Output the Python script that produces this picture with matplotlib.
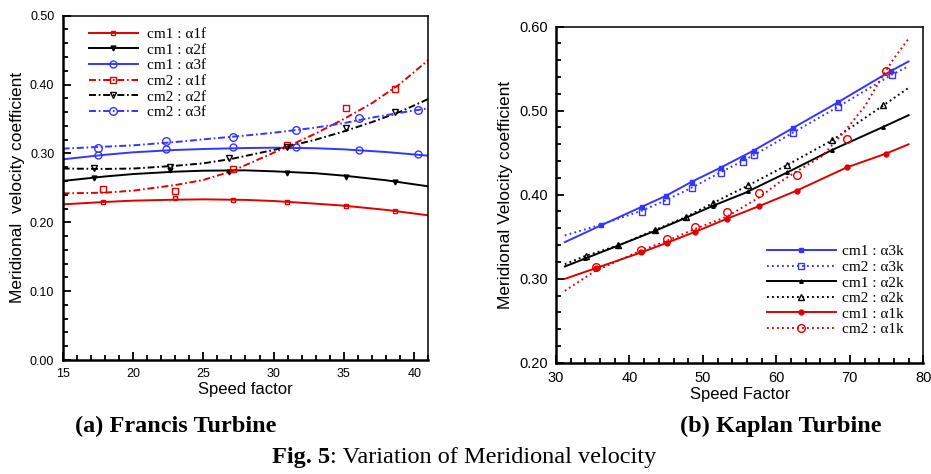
import matplotlib
matplotlib.use("Agg")
import matplotlib.pyplot as plt
from matplotlib.ticker import MultipleLocator, FormatStrFormatter

plt.rcParams['lines.scale_dashes'] = False

RED = '#e00000'
BLUE = '#3535ff'
BLACK = '#000000'

# ---------------- Francis turbine (a) ----------------
fr_labels = ["cm1 : \u03b11f", "cm1 : \u03b12f", "cm1 : \u03b13f",
             "cm2 : \u03b11f", "cm2 : \u03b12f", "cm2 : \u03b13f"]

# fitted curves
fr_cm1_a1_lx = [15, 18, 20, 23, 25, 28, 30, 33, 35, 38, 41]
fr_cm1_a1_ly = [0.226, 0.2295, 0.2314, 0.2328, 0.2333, 0.2325, 0.2309, 0.227, 0.2241, 0.218, 0.2101]
fr_cm1_a2_lx = [15, 18, 20, 23, 25, 28, 30, 33, 35, 38, 41]
fr_cm1_a2_ly = [0.260, 0.2665, 0.270, 0.2735, 0.2749, 0.2754, 0.274, 0.2712, 0.2677, 0.261, 0.2522]
fr_cm1_a3_lx = [15, 18, 20, 23, 25, 28, 30, 33, 35, 38, 41]
fr_cm1_a3_ly = [0.2914, 0.298, 0.3016, 0.305, 0.3064, 0.3078, 0.3083, 0.3075, 0.3059, 0.302, 0.2967]
fr_cm2_a1_lx = [15, 18, 20, 23, 25, 27, 29, 31, 33, 35, 37, 39, 41]
fr_cm2_a1_ly = [0.242, 0.243, 0.2459, 0.254, 0.2614, 0.274, 0.292, 0.310, 0.329, 0.350, 0.373, 0.401, 0.4356]
fr_cm2_a2_lx = [15, 18, 20, 23, 25, 27, 30, 33, 35, 37, 39, 41]
fr_cm2_a2_ly = [0.278, 0.2775, 0.278, 0.282, 0.2856, 0.292, 0.305, 0.320, 0.332, 0.3455, 0.3605, 0.379]
fr_cm2_a3_lx = [15, 20, 23, 25, 28, 30, 33, 35, 37, 39, 41]
fr_cm2_a3_ly = [0.3069, 0.3117, 0.3165, 0.3204, 0.326, 0.330, 0.3375, 0.344, 0.352, 0.359, 0.3655]

# data points
fr_cm1_a1_px = [17.84, 22.99, 27.14, 30.98, 35.12, 38.65]
fr_cm1_a1_py = [0.229, 0.235, 0.233, 0.229, 0.223, 0.217]
fr_cm1_a2_px = [17.23, 22.66, 26.8, 30.98, 35.12, 38.65]
fr_cm1_a2_py = [0.2638, 0.2764, 0.2730, 0.2715, 0.2662, 0.2590]
fr_cm1_a3_px = [17.54, 22.32, 27.14, 31.62, 36.09, 40.24]
fr_cm1_a3_py = [0.2972, 0.3059, 0.3088, 0.3098, 0.3045, 0.2991]
fr_cm2_a1_px = [17.84, 22.99, 27.14, 30.98, 35.12, 38.65]
fr_cm2_a1_py = [0.2478, 0.2449, 0.2774, 0.3122, 0.3659, 0.3935]
fr_cm2_a2_px = [17.23, 22.66, 26.8, 30.98, 35.12, 38.65]
fr_cm2_a2_py = [0.2783, 0.2807, 0.2938, 0.3098, 0.3364, 0.3601]
fr_cm2_a3_px = [17.54, 22.32, 27.14, 31.62, 36.09, 40.24]
fr_cm2_a3_py = [0.3083, 0.3180, 0.3243, 0.3340, 0.3509, 0.3630]

# ---------------- Kaplan turbine (b) ----------------
kp_labels = ["cm1 : \u03b13k", "cm2 : \u03b13k", "cm1 : \u03b12k",
             "cm2 : \u03b12k", "cm1 : \u03b11k", "cm2 : \u03b11k"]

kp_cm1_a3_lx = [31.2, 36.1, 41.7, 45.0, 48.5, 52.4, 56.9, 62.2, 68.4, 75.55, 78]
kp_cm1_a3_ly = [0.3435, 0.3634, 0.3857, 0.3988, 0.4155, 0.4322, 0.4525, 0.4791, 0.5101, 0.5471, 0.5586]
kp_cm1_a3_px = [36.1, 41.7, 45.0, 48.5, 52.4, 55.5, 56.9, 62.2, 68.4, 75.55]
kp_cm1_a3_py = [0.3634, 0.3857, 0.3988, 0.4155, 0.4322, 0.4441, 0.4525, 0.4791, 0.5101, 0.5471]

kp_cm2_a3_lx = [31.2, 36, 41.7, 45, 48.5, 52.4, 56.9, 62.2, 68.4, 75.7, 78]
kp_cm2_a3_ly = [0.3515, 0.364, 0.381, 0.3935, 0.4085, 0.4265, 0.447, 0.4736, 0.5046, 0.5427, 0.553]
kp_cm2_a3_px = [41.7, 45.0, 48.5, 52.4, 55.5, 56.9, 62.2, 68.4, 75.7]
kp_cm2_a3_py = [0.3797, 0.3924, 0.4076, 0.4258, 0.4386, 0.4473, 0.4736, 0.5046, 0.5427]

kp_cm1_a2_lx = [31.2, 38.5, 43.5, 47.6, 51.4, 55.7, 61.6, 67.5, 74.55, 78]
kp_cm1_a2_ly = [0.3145, 0.3396, 0.357, 0.3722, 0.3869, 0.402, 0.427, 0.4529, 0.4807, 0.4946]
kp_cm1_a2_px = [34.0, 38.5, 43.5, 47.6, 51.4, 56.2, 61.5, 67.6, 74.55]
kp_cm1_a2_py = [0.325, 0.3396, 0.357, 0.3722, 0.3869, 0.404, 0.4265, 0.4533, 0.4807]

kp_cm2_a2_lx = [31.2, 34.04, 38.48, 43.48, 47.65, 51.37, 56.18, 61.49, 67.6, 74.55, 78]
kp_cm2_a2_ly = [0.3173, 0.3272, 0.3396, 0.358, 0.3734, 0.390, 0.4111, 0.4354, 0.4648, 0.5062, 0.5272]
kp_cm2_a2_px = [34.04, 38.48, 43.48, 47.65, 51.37, 56.18, 61.49, 67.6, 74.55]
kp_cm2_a2_py = [0.3272, 0.3396, 0.3579, 0.3734, 0.390, 0.4111, 0.4354, 0.4648, 0.5062]

kp_cm1_a1_lx = [31.2, 35.4, 41.57, 45.1, 48.97, 53.28, 57.68, 62.76, 69.61, 74.92, 78]
kp_cm1_a1_ly = [0.2998, 0.3125, 0.3312, 0.3427, 0.3559, 0.3714, 0.3865, 0.4048, 0.4326, 0.4489, 0.46]
kp_cm1_a1_px = [35.4, 41.57, 45.1, 48.97, 53.28, 57.68, 62.76, 69.61, 74.92]
kp_cm1_a1_py = [0.3125, 0.3312, 0.3427, 0.3559, 0.3714, 0.3865, 0.4048, 0.4326, 0.4489]

kp_cm2_a1_lx = [31.2, 35.3, 41.4, 45.06, 49, 53.3, 57.7, 60.3, 62.8, 66.2, 69.3, 72.06, 73.9, 75.9, 78]
kp_cm2_a1_ly = [0.2855, 0.309, 0.333, 0.345, 0.3595, 0.374, 0.397, 0.414, 0.428, 0.4457, 0.4755, 0.5054, 0.5332, 0.561, 0.5857]
kp_cm2_a1_px = [35.4, 41.57, 45.1, 48.97, 53.28, 57.68, 62.76, 69.61, 74.92]
kp_cm2_a1_py = [0.3145, 0.3344, 0.3467, 0.3614, 0.3797, 0.4024, 0.4235, 0.466, 0.5467]

# ---------------- figure ----------------
fig = plt.figure(figsize=(9.31, 4.74), dpi=100)
ax1 = fig.add_axes([0.0673, 0.2405, 0.3927, 0.7264])
ax2 = fig.add_axes([0.5972, 0.2348, 0.3945, 0.7089])

SANS = 'Liberation Sans'
SERIF = 'Liberation Serif'
DASHDOT = (0, (5.0, 2.0, 1.2, 2.0))
DOTTED = (0, (1.3, 2.3))
LW = 1.4


def draw(ax, lx, ly, px, py, color, ls, marker, ms, mfc, label):
    ax.plot(lx, ly, color=color, lw=LW, linestyle=ls, zorder=2)
    ax.plot(px, py, linestyle='none', marker=marker, ms=ms, mfc=mfc,
            mec=color, mew=1.0, zorder=3)
    # legend proxy
    return ax.plot([], [], color=color, lw=LW, linestyle=ls, marker=marker,
                   ms=ms, mfc=mfc, mec=color, mew=1.0, label=label)[0]


h1 = []
h1.append(draw(ax1, fr_cm1_a1_lx, fr_cm1_a1_ly, fr_cm1_a1_px, fr_cm1_a1_py, RED, '-', 's', 3.5, 'none', fr_labels[0]))
h1.append(draw(ax1, fr_cm1_a2_lx, fr_cm1_a2_ly, fr_cm1_a2_px, fr_cm1_a2_py, BLACK, '-', 'v', 3.5, BLACK, fr_labels[1]))
h1.append(draw(ax1, fr_cm1_a3_lx, fr_cm1_a3_ly, fr_cm1_a3_px, fr_cm1_a3_py, BLUE, '-', 'o', 5, 'none', fr_labels[2]))
h1.append(draw(ax1, fr_cm2_a1_lx, fr_cm2_a1_ly, fr_cm2_a1_px, fr_cm2_a1_py, RED, DASHDOT, 's', 4, 'none', fr_labels[3]))
h1.append(draw(ax1, fr_cm2_a2_lx, fr_cm2_a2_ly, fr_cm2_a2_px, fr_cm2_a2_py, BLACK, DASHDOT, 'v', 4.5, 'none', fr_labels[4]))
h1.append(draw(ax1, fr_cm2_a3_lx, fr_cm2_a3_ly, fr_cm2_a3_px, fr_cm2_a3_py, BLUE, DASHDOT, 'o', 5.5, 'none', fr_labels[5]))

h2 = []
h2.append(draw(ax2, kp_cm1_a3_lx, kp_cm1_a3_ly, kp_cm1_a3_px, kp_cm1_a3_py, BLUE, '-', 's', 3.5, BLUE, kp_labels[0]))
h2.append(draw(ax2, kp_cm2_a3_lx, kp_cm2_a3_ly, kp_cm2_a3_px, kp_cm2_a3_py, BLUE, DOTTED, 's', 4, 'none', kp_labels[1]))
h2.append(draw(ax2, kp_cm1_a2_lx, kp_cm1_a2_ly, kp_cm1_a2_px, kp_cm1_a2_py, BLACK, '-', '^', 2.5, BLACK, kp_labels[2]))
h2.append(draw(ax2, kp_cm2_a2_lx, kp_cm2_a2_ly, kp_cm2_a2_px, kp_cm2_a2_py, BLACK, DOTTED, '^', 4.5, 'none', kp_labels[3]))
h2.append(draw(ax2, kp_cm1_a1_lx, kp_cm1_a1_ly, kp_cm1_a1_px, kp_cm1_a1_py, RED, '-', 'o', 3.5, RED, kp_labels[4]))
h2.append(draw(ax2, kp_cm2_a1_lx, kp_cm2_a1_ly, kp_cm2_a1_px, kp_cm2_a1_py, RED, DOTTED, 'o', 5.5, 'none', kp_labels[5]))


def style(ax, xlim, ylim, xmaj, xmin, ymaj, ymin, fs):
    ax.set_xlim(*xlim)
    ax.set_ylim(*ylim)
    ax.xaxis.set_major_locator(MultipleLocator(xmaj))
    ax.xaxis.set_minor_locator(MultipleLocator(xmin))
    ax.yaxis.set_major_locator(MultipleLocator(ymaj))
    ax.yaxis.set_minor_locator(MultipleLocator(ymin))
    ax.yaxis.set_major_formatter(FormatStrFormatter('%.2f'))
    ax.tick_params(which='both', direction='in', top=False, right=False, width=1.3)
    ax.tick_params(which='major', length=6, labelsize=fs, pad=6)
    ax.tick_params(which='minor', length=3.5)
    for lab in ax.get_xticklabels() + ax.get_yticklabels():
        lab.set_fontfamily(SANS)
    ax.spines['left'].set_linewidth(1.8)
    ax.spines['bottom'].set_linewidth(1.8)
    ax.spines['top'].set_linewidth(1.1)
    ax.spines['right'].set_linewidth(1.1)


style(ax1, (15, 41), (0, 0.5), 5, 1, 0.1, 0.02, 9)
style(ax2, (30, 80), (0.2, 0.6), 10, 2, 0.1, 0.02, 10.5)

ax1.set_xlabel('Speed factor', fontsize=12, fontfamily=SANS)
ax1.set_ylabel('Meridional  velocity coefficient', fontsize=12.5, fontfamily=SANS)
ax1.xaxis.set_label_coords(0.5, -0.064)
ax1.yaxis.set_label_coords(-0.103, 0.5)

ax2.set_xlabel('Speed Factor', fontsize=12, fontfamily=SANS)
ax2.set_ylabel('Meridional Velocity coefficient', fontsize=12.5, fontfamily=SANS)
ax2.xaxis.set_label_coords(0.5, -0.072)
ax2.yaxis.set_label_coords(-0.117, 0.5)

leg1 = ax1.legend(handles=h1, loc='upper left', bbox_to_anchor=(0.072, 0.966),
                  frameon=False, prop={'family': SERIF, 'size': 11},
                  handlelength=3.2, handletextpad=0.6, labelspacing=0.13,
                  borderpad=0, borderaxespad=0, numpoints=1)
leg2 = ax2.legend(handles=h2, loc='upper left', bbox_to_anchor=(0.574, 0.351),
                  frameon=False, prop={'family': SERIF, 'size': 11},
                  handlelength=4.5, handletextpad=0.4, labelspacing=0.12,
                  borderpad=0, borderaxespad=0, numpoints=1)

fig.text(0.189, 0.101, '(a) Francis Turbine', ha='center', va='center',
         fontfamily=SERIF, fontweight='bold', fontsize=17.5)
fig.text(0.839, 0.101, '(b) Kaplan Turbine', ha='center', va='center',
         fontfamily=SERIF, fontweight='bold', fontsize=17.5)
t1 = fig.text(0.292, 0.034, 'Fig. 5', ha='left', va='center',
              fontfamily=SERIF, fontweight='bold', fontsize=17.5)
fig.canvas.draw()
bb = t1.get_window_extent()
x_next = bb.x1 / fig.bbox.width
fig.text(x_next, 0.034, ': Variation of Meridional velocity', ha='left', va='center',
         fontfamily=SERIF, fontsize=17.5)

fig.savefig('out.png', dpi=100)
